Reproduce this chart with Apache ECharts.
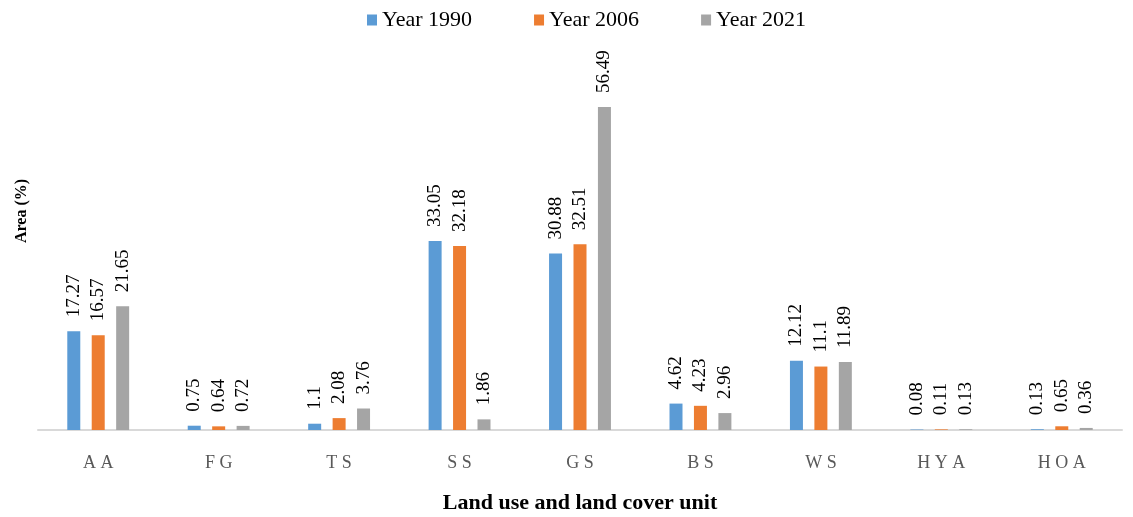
<!DOCTYPE html>
<html>
<head>
<meta charset="utf-8">
<script src="https://cdn.jsdelivr.net/npm/echarts@6/dist/echarts.min.js"></script>
<style>html,body{margin:0;padding:0;background:#fff;}#c{width:1133px;height:517px;}</style>
</head>
<body>
<div id="c"></div>
<script>
const categories = ['AA','FG','TS','SS','GS','BS','WS','HYA','HOA'];
const y1990 = [17.27, 0.75, 1.1, 33.05, 30.88, 4.62, 12.12, 0.08, 0.13];
const y2006 = [16.57, 0.64, 2.08, 32.18, 32.51, 4.23, 11.1, 0.11, 0.65];
const y2021 = [21.65, 0.72, 3.76, 1.86, 56.49, 2.96, 11.89, 0.13, 0.36];
const seriesNames = ['Year 1990','Year 2006','Year 2021'];
const colors = ['#5B9BD5','#ED7D31','#A5A5A5'];

const font = '"Liberation Serif","Times New Roman",serif';
const chart = echarts.init(document.getElementById('c'));
const mk = (name, data, color) => ({
  name, type: 'bar', data, barWidth: 13, barGap: '88%',
  itemStyle: { color },
  label: {
    show: true, position: 'top', distance: 14, rotate: 90,
    align: 'left', verticalAlign: 'middle',
    fontFamily: font, fontSize: 19, color: '#000'
  }
});
chart.setOption({
  animation: false,
  color: colors,
  legend: {
    top: 4, left: 362, itemWidth: 10, itemHeight: 11, itemGap: 62,
    icon: 'rect',
    textStyle: { fontFamily: font, fontSize: 22, color: '#000' },
    data: seriesNames
  },
  grid: { left: 38, right: 11, top: 87, bottom: 87, outerBoundsMode: 'none', containLabel: false },
  xAxis: {
    type: 'category', data: categories,
    axisLine: { lineStyle: { color: '#D9D9D9', width: 2 } },
    axisTick: { show: false },
    axisLabel: {
      margin: 24, fontFamily: font, fontSize: 18, color: '#595959',
      formatter: v => v.split('').join(' ')
    },
    name: 'Land use and land cover unit', nameLocation: 'middle', nameGap: 62,
    nameTextStyle: { fontFamily: font, fontSize: 22, fontWeight: 'bold', color: '#000' }
  },
  yAxis: {
    type: 'value', min: 0, max: 60, show: false,
    splitLine: { show: false }
  },
  graphic: [{
    type: 'text', x: 22, y: 211, rotation: Math.PI / 2,
    style: {
      text: 'Area (%)', fontFamily: font, fontSize: 16, fontWeight: 'bold',
      fill: '#000', align: 'center', verticalAlign: 'middle'
    }
  }],
  series: [
    mk(seriesNames[0], y1990, colors[0]),
    mk(seriesNames[1], y2006, colors[1]),
    mk(seriesNames[2], y2021, colors[2])
  ]
});
</script>
</body>
</html>
